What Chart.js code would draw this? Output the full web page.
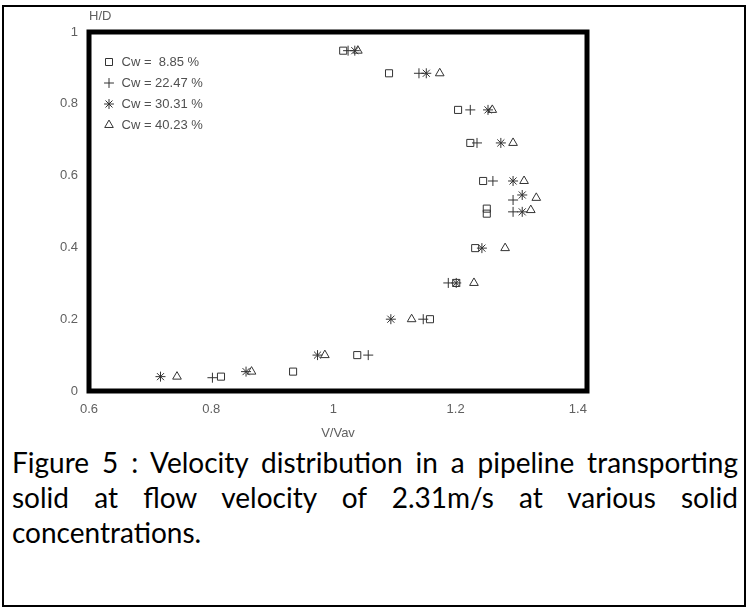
<!DOCTYPE html>
<html>
<head>
<meta charset="utf-8">
<script src="https://cdn.jsdelivr.net/npm/chart.js@4.4.1/dist/chart.umd.min.js"></script>
<style>
html,body{margin:0;padding:0;background:#fff;}
body{width:752px;height:608px;position:relative;overflow:hidden;}
#frame{position:absolute;left:2px;top:5px;width:740px;height:598px;border:2px solid #000;}
#wrap{position:absolute;left:0;top:0;width:752px;height:445px;}
#caption{position:absolute;left:12px;top:445px;width:726px;font-family:Lato,"Open Sans",sans-serif;font-size:28px;line-height:35px;text-align:justify;color:#000;}
</style>
</head>
<body>
<div id="frame"></div>
<div id="wrap"><canvas id="c" width="752" height="445"></canvas></div>
<div id="caption">Figure 5 : Velocity distribution in a pipeline transporting solid at flow velocity of 2.31m/s at various solid concentrations.</div>
<script>
// ---- data ----
const seriesLabels = ['Cw =  8.85 %', 'Cw = 22.47 %', 'Cw = 30.31 %', 'Cw = 40.23 %'];

const cw885V = [1.016, 1.091, 1.204, 1.224, 1.245, 1.251, 1.251, 1.232, 1.201, 1.158, 1.039, 0.934, 0.816];
const cw885H = [0.948, 0.885, 0.783, 0.691, 0.585, 0.508, 0.494, 0.398, 0.301, 0.200, 0.100, 0.054, 0.040];

const cw2247V = [1.024, 1.140, 1.224, 1.235, 1.261, 1.294, 1.294, 1.188, 1.147, 1.057, 0.802];
const cw2247H = [0.948, 0.885, 0.783, 0.691, 0.585, 0.532, 0.499, 0.301, 0.200, 0.100, 0.037];

const cw3031V = [1.035, 1.152, 1.253, 1.274, 1.294, 1.309, 1.309, 1.243, 1.201, 1.094, 0.974, 0.857, 0.717];
const cw3031H = [0.948, 0.885, 0.783, 0.691, 0.585, 0.546, 0.499, 0.398, 0.301, 0.200, 0.100, 0.054, 0.040];

const cw4023V = [1.040, 1.174, 1.260, 1.294, 1.312, 1.332, 1.323, 1.281, 1.230, 1.128, 0.986, 0.866, 0.744];
const cw4023H = [0.948, 0.885, 0.783, 0.691, 0.585, 0.538, 0.504, 0.398, 0.301, 0.200, 0.100, 0.054, 0.040];

const xTicks = [0.6, 0.8, 1.0, 1.2, 1.4];
const xTickLabels = ['0.6', '0.8', '1', '1.2', '1.4'];
const yTicks = [0, 0.2, 0.4, 0.6, 0.8, 1.0];
const yTickLabels = ['0', '0.2', '0.4', '0.6', '0.8', '1'];

const xTitle = 'V/Vav';
const yTitle = 'H/D';

// ---- build chart ----
const pts = (vs, hs) => vs.map((v, i) => ({x: v, y: hs[i]}));
const markColor = '#333';
const styles = ['rect', 'cross', 'star', 'triangle'];
const series = [[cw885V, cw885H], [cw2247V, cw2247H], [cw3031V, cw3031H], [cw4023V, cw4023H]];

const datasets = series.map((s, i) => ({
  label: seriesLabels[i],
  data: pts(s[0], s[1]),
  pointStyle: styles[i],
  pointRadius: 5,
  pointBorderWidth: 1,
  borderWidth: 1,
  borderColor: markColor,
  backgroundColor: 'rgba(0,0,0,0)',
  pointBackgroundColor: 'rgba(0,0,0,0)',
  showLine: false
}));

const framePlugin = {
  id: 'frame',
  afterLayout(chart) {
    const lg = chart.legend;
    if (lg) {
      lg.left = chart.chartArea.left + 6;
      lg.top = chart.chartArea.top + 15.5;
    }
  },
  beforeDatasetsDraw(chart) {
    const a = chart.chartArea, ctx = chart.ctx;
    ctx.save();
    ctx.strokeStyle = '#000';
    ctx.lineWidth = 5;
    ctx.strokeRect(a.left, a.top, a.right - a.left, a.bottom - a.top);
    ctx.restore();
  }
};

const tickFont = {family: '"Liberation Sans", Arial, sans-serif', size: 13};
const grey = '#606060';

new Chart(document.getElementById('c'), {
  type: 'scatter',
  data: {datasets},
  options: {
    responsive: false,
    animation: false,
    devicePixelRatio: 1,
    layout: {padding: {left: 0, right: 165, top: 0, bottom: 0}},
    plugins: {
      legend: {
        display: true,
        position: 'chartArea',
        align: 'start',
        labels: {
          usePointStyle: true,
          boxWidth: 12,
          boxHeight: 7,
          padding: 8,
          color: '#505050',
          font: {family: '"Liberation Sans", Arial, sans-serif', size: 13}
        }
      },
      title: {
        display: true,
        text: yTitle,
        align: 'start',
        fullSize: false,
        color: grey,
        font: {family: '"Liberation Sans", Arial, sans-serif', size: 13, weight: 'normal'},
        padding: {top: 9, bottom: 7.4}
      },
      tooltip: {enabled: false}
    },
    scales: {
      x: {
        type: 'linear',
        min: 0.6,
        max: 1.415,
        grid: {display: false, drawTicks: false},
        border: {display: false},
        afterBuildTicks: (s) => { s.ticks = xTicks.map(v => ({value: v})); },
        afterFit: (s) => { s.height = 54; },
        ticks: {
          padding: 11,
          color: grey,
          font: tickFont,
          autoSkip: false,
          maxRotation: 0,
          callback: (v, i) => xTickLabels[i]
        },
        title: {
          display: true,
          text: xTitle,
          color: grey,
          font: tickFont,
          padding: {top: 0, bottom: 4}
        }
      },
      y: {
        type: 'linear',
        min: 0,
        max: 1,
        grid: {display: false, drawTicks: false},
        border: {display: false},
        afterBuildTicks: (s) => { s.ticks = yTicks.map(v => ({value: v})); },
        afterFit: (s) => { s.width = 89; },
        ticks: {
          padding: 11,
          color: grey,
          font: tickFont,
          autoSkip: false,
          callback: (v, i) => yTickLabels[i]
        }
      }
    }
  },
  plugins: [framePlugin]
});
</script>
</body>
</html>
